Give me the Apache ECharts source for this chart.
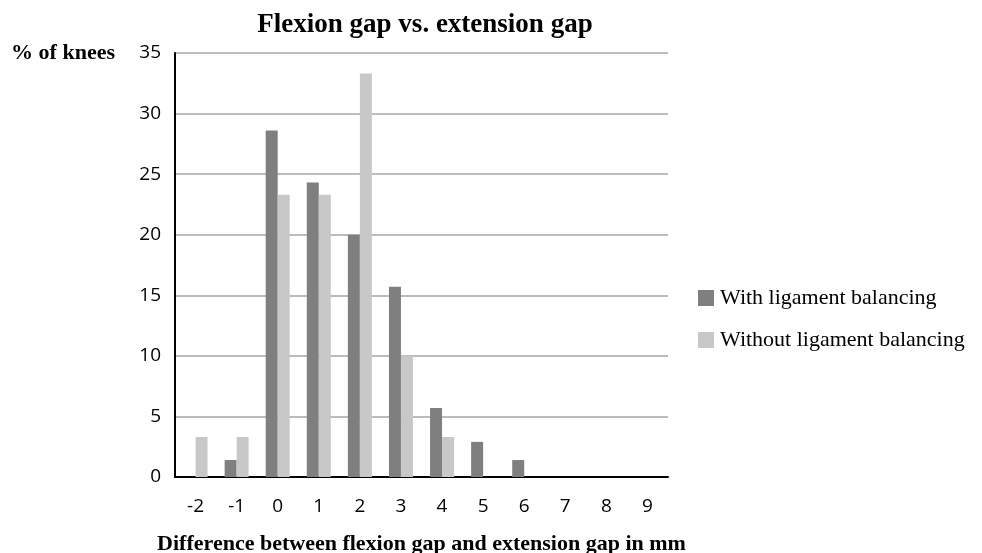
<!DOCTYPE html>
<html><head><meta charset="utf-8">
<script src="https://cdn.jsdelivr.net/npm/echarts@6/dist/echarts.min.js"></script>
<style>html,body{margin:0;padding:0;background:#fff}#c{width:982px;height:553px}</style>
</head><body><div id="c"></div>
<script>
const categories = ['-2','-1','0','1','2','3','4','5','6','7','8','9'];
const withBalancing = [0, 1.4, 28.6, 24.3, 20, 15.7, 5.7, 2.9, 1.4, 0, 0, 0];
const withoutBalancing = [3.3, 3.3, 23.3, 23.3, 33.3, 10, 3.3, 0, 0, 0, 0, 0];
const seriesNames = ['With ligament balancing', 'Without ligament balancing'];

const chart = echarts.init(document.getElementById('c'));
chart.setOption({
  animation: false,
  title: {
    text: 'Flexion gap vs. extension gap',
    left: 420, top: 7, textAlign: 'center',
    textStyle: {fontFamily: 'Liberation Serif', fontWeight: 'bold', fontSize: 27, color: '#000'}
  },
  legend: {
    orient: 'vertical', left: 693, top: 282, itemGap: 20,
    itemWidth: 16, itemHeight: 16, icon: 'rect',
    textStyle: {fontFamily: 'Liberation Serif', fontSize: 22, color: '#000', padding: [0, 0, 0, 1]},
    data: seriesNames
  },
  grid: {left: 175, right: 314, top: 53, bottom: 76, containLabel: false, outerBoundsMode: 'none'},
  xAxis: {
    type: 'category', data: categories,
    name: 'Difference between flexion gap and extension gap in mm',
    nameLocation: 'middle', nameGap: 56,
    nameTextStyle: {fontFamily: 'Liberation Serif', fontWeight: 'bold', fontSize: 22, color: '#000'},
    axisLine: {lineStyle: {color: '#000', width: 2}},
    axisTick: {show: false},
    axisLabel: {fontFamily: 'Open Sans', fontSize: 19, color: '#000', margin: 20}
  },
  yAxis: {
    type: 'value', min: 0, max: 35, interval: 5,
    name: '% of knees', nameLocation: 'end', nameGap: 0,
    nameTextStyle: {fontFamily: 'Liberation Serif', fontWeight: 'bold', fontSize: 22, color: '#000',
      align: 'right', verticalAlign: 'middle', padding: [0, 60, -2, 0]},
    axisLine: {show: true, lineStyle: {color: '#000', width: 2}},
    axisTick: {show: false},
    splitLine: {lineStyle: {color: '#a6a6a6', width: 1.5}},
    axisLabel: {fontFamily: 'Open Sans', fontSize: 19, color: '#000', margin: 14}
  },
  series: [
    {name: seriesNames[0], type: 'bar', data: withBalancing, barWidth: 12, barGap: '0%',
      itemStyle: {color: '#7f7f7f'}},
    {name: seriesNames[1], type: 'bar', data: withoutBalancing, barWidth: 12,
      itemStyle: {color: '#c8c8c8'}}
  ]
});
</script></body></html>
